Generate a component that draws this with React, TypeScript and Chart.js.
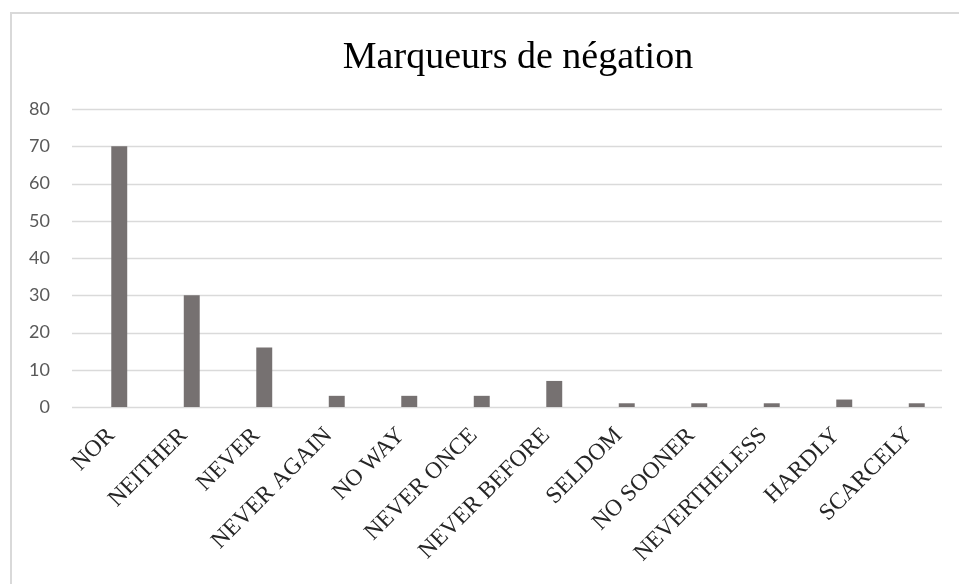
import React, { useEffect, useRef } from 'react';
import { Chart, registerables } from 'chart.js';

Chart.register(...registerables);

const TITLE = 'Marqueurs de négation';
const categories = [
  'NOR',
  'NEITHER',
  'NEVER',
  'NEVER AGAIN',
  'NO WAY',
  'NEVER ONCE',
  'NEVER BEFORE',
  'SELDOM',
  'NO SOONER',
  'NEVERTHELESS',
  'HARDLY',
  'SCARCELY',
];
const counts = [70, 30, 16, 3, 3, 3, 7, 1, 1, 1, 2, 1];
const yMin = 0;
const yMax = 80;
const yStep = 10;

const GRID_SHIFT = 11;

const framePlugin = {
  id: 'frame',
  beforeDraw(chart: any) {
    const { ctx, width, height } = chart;
    ctx.save();
    ctx.fillStyle = '#ffffff';
    ctx.fillRect(0, 0, width, height);
    ctx.strokeStyle = '#d9d9d9';
    ctx.lineWidth = 2;
    ctx.strokeRect(11, 13, width + 50, height + 50);
    ctx.restore();
  },
};

const gridPlugin = {
  id: 'shiftedGrid',
  beforeDatasetsDraw(chart: any) {
    const { ctx, chartArea, scales } = chart;
    const y = scales.y;
    ctx.save();
    ctx.strokeStyle = '#dadada';
    ctx.lineWidth = 1.5;
    y.ticks.forEach((t: any) => {
      const py = Math.round(y.getPixelForValue(t.value)) + 0.5;
      ctx.beginPath();
      ctx.moveTo(chartArea.left - GRID_SHIFT, py);
      ctx.lineTo(chartArea.right - GRID_SHIFT, py);
      ctx.stroke();
    });
    ctx.restore();
  },
};

export default function App() {
  const ref = useRef<HTMLCanvasElement | null>(null);

  useEffect(() => {
    document.body.style.margin = '0';
    document.body.style.overflow = 'hidden';
    if (!ref.current) return;
    const chart = new Chart(ref.current, {
      type: 'bar',
      data: {
        labels: categories,
        datasets: [
          {
            label: 'Série',
            data: counts,
            backgroundColor: '#767171',
            borderWidth: 0,
            barPercentage: 0.22,
            categoryPercentage: 1,
          },
        ],
      },
      options: {
        animation: false,
        responsive: false,
        devicePixelRatio: 1,
        layout: { padding: { left: 0, right: 6, top: 0, bottom: 0 } },
        plugins: {
          legend: { display: false },
          tooltip: { enabled: false },
          title: {
            display: true,
            fullSize: false,
            text: TITLE,
            color: '#000000',
            font: { family: 'Liberation Serif', size: 38, weight: 'normal' },
            padding: { top: 35, bottom: 28.5 },
          },
        },
        scales: {
          x: {
            grid: { display: false, drawTicks: false },
            border: { display: false },
            ticks: {
              autoSkip: false,
              maxRotation: 45,
              minRotation: 45,
              padding: 15,
              labelOffset: -8,
              color: '#262626',
              font: { family: 'Liberation Serif', size: 23.5 },
            },
            afterFit: (s: any) => {
              s.height = 177;
            },
          },
          y: {
            min: yMin,
            max: yMax,
            grid: { display: false, drawTicks: false },
            border: { display: false },
            ticks: {
              stepSize: yStep,
              padding: 33,
              color: '#595959',
              font: { family: 'Lato', size: 18 },
            },
            afterFit: (s: any) => {
              s.width = 83;
            },
          },
        },
      },
      plugins: [framePlugin, gridPlugin],
    });
    return () => chart.destroy();
  }, []);

  return (
    <div style={{ width: 959, height: 584 }}>
      <canvas ref={ref} width={959} height={584} style={{ display: 'block' }} />
    </div>
  );
}
